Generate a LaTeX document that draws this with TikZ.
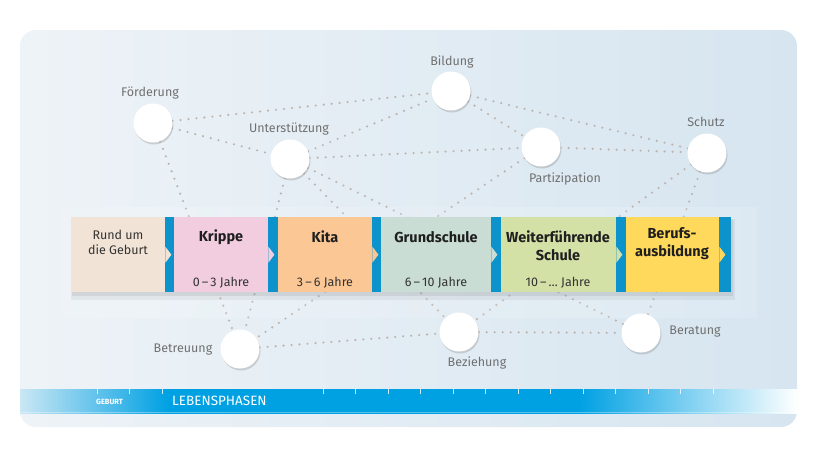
\documentclass[tikz,border=0pt]{standalone}
\usepackage{fontspec}
\setmainfont{Fira Sans}
\usepackage{tikz}
\usetikzlibrary{backgrounds,calc,shadows}
\usepackage{xcolor}

\definecolor{panelL}{HTML}{EEF3F7}
\definecolor{panelR}{HTML}{D6E5F0}
\definecolor{barblue}{HTML}{00A1E3}
\definecolor{stripblue}{HTML}{0C93CB}
\definecolor{dotgray}{HTML}{BDB4AF}
\definecolor{labelgray}{HTML}{707070}
\definecolor{cGeb}{HTML}{F1E4D6}
\definecolor{cKri}{HTML}{F2CDE0}
\definecolor{cKit}{HTML}{FBC795}
\definecolor{cGrs}{HTML}{C9DDD5}
\definecolor{cWfs}{HTML}{D3E0A6}
\definecolor{cBab}{HTML}{FFD95C}

% Verlauf der Zeitleiste (Bereich 25bp--75bp wird auf den Pfad gelegt)
\pgfdeclarehorizontalshading{bandshade}{100bp}{color(0bp)=(panelL); color(25bp)=(panelL!85!barblue);
  color(34.5bp)=(barblue); color(61bp)=(barblue); color(75bp)=(white); color(100bp)=(white)}

\tikzset{
  hub/.style={circle, fill=white, minimum size=39pt, inner sep=0pt,
    drop shadow={opacity=0.3, shadow xshift=1pt, shadow yshift=-2pt}},
  hublabel/.style={font=\fontsize{12.5}{15}\selectfont, text=labelgray, inner sep=0pt},
  link/.style={draw=dotgray, line width=2.4pt, line cap=round, dash pattern=on 0pt off 8pt},
  phasebox/.style={anchor=north west, minimum height=75pt, inner sep=0pt},
  phasetitle/.style={font=\fontsize{14.5}{18}\selectfont\bfseries, text=black!88, align=center, inner sep=0pt},
  phasesub/.style={font=\fontsize{12.5}{15}\selectfont, text=black!80, align=center, inner sep=0pt},
}

\begin{document}
\begin{tikzpicture}[x=1pt, y=-1pt]
\useasboundingbox (0,0) rectangle (825,450);
% Hintergrund und Zeitleiste
\begin{scope}[on background layer]
  \shade[left color=panelL, right color=panelR, rounded corners=16pt] (20,30) rectangle (797,427);
  \shade[shading=bandshade] (20,389) rectangle (797,413);
  \draw[white, opacity=0.35, line width=1pt] (20,412.5) -- (797,412.5);
  \foreach \t in {97,129.5,162,323,355.5,...,714}{
    \draw[white, opacity=0.8, line width=1pt] (\t,389) -- (\t,394);
  }
\end{scope}
\node[font=\fontsize{7.5}{9}\selectfont\bfseries, text=white, anchor=west, inner sep=0pt] (geburt) at (96,401.5) {GEBURT};
\node[font=\fontsize{13.5}{16}\selectfont, text=white, anchor=west, inner sep=0pt] (phasen) at (172,401) {LEBENSPHASEN};

% Netz: Kreise
\node[hub] (foe) at (153,123) {};
\node[hub] (bil) at (451,91) {};
\node[hub] (unt) at (290,159) {};
\node[hub] (par) at (541,147) {};
\node[hub] (sch) at (707,153) {};
\node[hub] (bet) at (240,349) {};
\node[hub] (bez) at (459,332) {};
\node[hub] (ber) at (641,333) {};
\node[hublabel] (lfoe) at (150,93) {Förderung};
\node[hublabel] (lbil) at (452,62) {Bildung};
\node[hublabel] (lunt) at (289,129) {Unterstützung};
\node[hublabel] (lpar) at (565,179) {Partizipation};
\node[hublabel] (lsch) at (706,122) {Schutz};
\node[hublabel] (lbet) at (183,350) {Betreuung};
\node[hublabel] (lbez) at (477,363) {Beziehung};
\node[hublabel] (lber) at (695,332) {Beratung};

% Netz: gepunktete Verbindungen
\begin{scope}[on background layer]
  \foreach \a/\b in {foe/bil, foe/unt, foe/bet, unt/bil, unt/par, unt/bet, unt/bez, unt/ber,
                     bil/par, bil/sch, par/sch, par/bet, sch/bez, sch/ber, bet/bez, bez/ber}{
    \draw[link] (\a) -- (\b);
  }
  \fill[white, opacity=0.15] (62,207) rectangle (757,318);
\end{scope}

% Lebensphasen
\fill[black, opacity=0.05] (71,219) rectangle (735,300);
\fill[black, opacity=0.07] (72,220) rectangle (733,296);
\foreach \nm/\xa/\xb/\xc/\col in {geb/71/165/174/cGeb, kri/174/268/278/cKri, kit/278/372/381/cKit,
                                 grs/381/491/501/cGrs, wfs/501/616/626/cWfs, bab/626/719/731/cBab}{
  \fill[stripblue] (\xb,217) rectangle (\xc,292);
  \node[phasebox, fill=\col, minimum width=\xb pt-\xa pt] (\nm) at (\xa,217) {};
  \fill[\col] ($(\nm.east)+(0,-8)$) -- ++(6,8) -- ++(-6,8) -- cycle;
}
\node[phasesub] (gebt) at (118,242) {Rund um\\die Geburt};
\node[phasetitle] (krit) at (221,237) {Krippe};
\node[phasesub] (kris) at (221,283) {0\,–\,3 Jahre};
\node[phasetitle] (kitt) at (325,237) {Kita};
\node[phasesub] (kits) at (325,283) {3\,–\,6 Jahre};
\node[phasetitle] (grst) at (436,237) {Grundschule};
\node[phasesub] (grss) at (436,283) {6\,–\,10 Jahre};
\node[phasetitle] (wfst) at (558,246) {Weiterführende\\Schule};
\node[phasesub] (wfss) at (558,283) {10\,–\,… Jahre};
\node[phasetitle] (babt) at (672,244) {Berufs-\\ausbildung};
\end{tikzpicture}
\end{document}
